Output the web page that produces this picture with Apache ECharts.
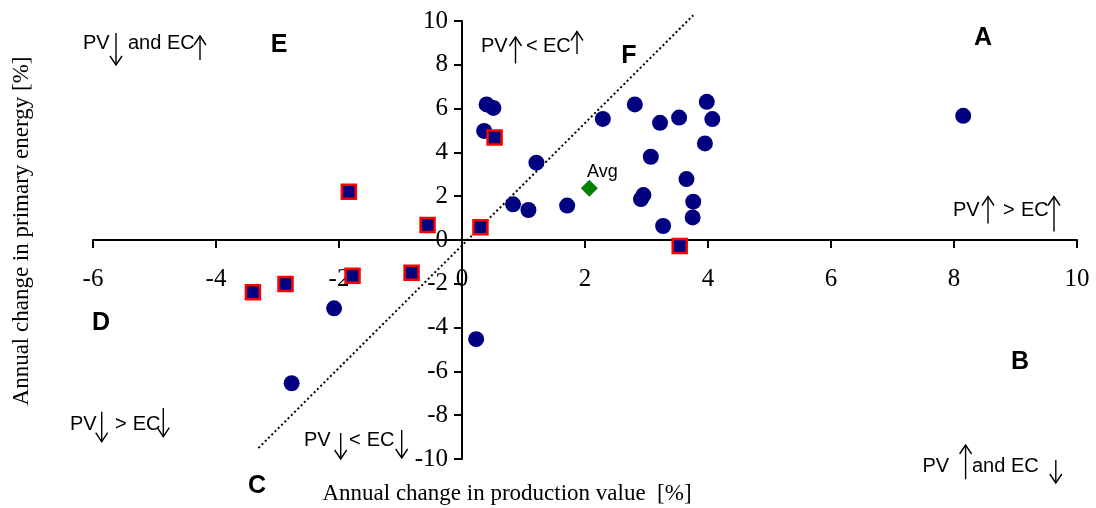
<!DOCTYPE html>
<html>
<head>
<meta charset="utf-8">
<script src="https://cdn.jsdelivr.net/npm/echarts@6/dist/echarts.min.js"></script>
<style>
  html, body { margin: 0; padding: 0; background: #ffffff; }
  #chart { width: 1096px; height: 508px; }
</style>
</head>
<body>
<div id="chart"></div>
<script>
// Annual change in production value (x, %) and in primary energy (y, %)
const circlePoints = [
  [0.40, 6.19], [0.51, 6.03], [0.36, 4.98], [1.21, 3.53], [0.83, 1.63],
  [1.08, 1.37], [1.71, 1.57], [2.29, 5.53], [2.81, 6.19], [3.22, 5.35],
  [3.53, 5.59], [3.98, 6.31], [4.07, 5.52], [3.95, 4.41], [3.07, 3.80],
  [3.65, 2.78], [2.95, 2.05], [2.91, 1.87], [3.76, 1.75], [3.75, 1.03],
  [3.27, 0.64], [8.15, 5.67], [-2.08, -3.12], [-2.77, -6.54], [0.23, -4.53]
];
const squarePoints = [
  [0.53, 4.68], [-0.56, 0.68], [0.30, 0.58], [3.54, -0.27], [-1.84, 2.20],
  [-3.40, -2.39], [-2.87, -2.01], [-1.78, -1.63], [-0.82, -1.49]
];
const averagePoint = [[2.07, 2.36]];
const averageLabel = 'Avg';
// Dotted divider between the "PV < EC" and "PV > EC" zones
const dividerLine = [[-3.31, -9.50], [3.76, 10.26]];

const xRange = { min: -6, max: 10, interval: 2 };
const yRange = { min: -10, max: 10, interval: 2 };

const xTitle = 'Annual change in production value  [%]';
const yTitle = 'Annual change in primary energy [%]';

const zoneLetters = ['A', 'B', 'C', 'D', 'E', 'F'];

// Zone descriptions: text pieces with up/down arrows in between
const zoneNotes = [
  ['PV', 'down', 'and EC', 'up'],
  ['PV', 'up', '<', 'EC', 'up'],
  ['PV', 'up', '>', 'EC', 'up'],
  ['PV', 'down', '>', 'EC', 'down'],
  ['PV', 'down', '<', 'EC', 'down'],
  ['PV', 'up', 'and EC', 'down']
];

// ---- layout (pixels) ----
const grid = { left: 93, right: 19, top: 21, bottom: 49 };
const letterPos = {
  A: [983, 38], B: [1020, 362], C: [257, 486], D: [101, 323], E: [279, 45], F: [629, 56]
};
// per note: text centre y; per piece: left x for text, [x, y0, y1] for an arrow
const noteLayout = [
  { y: 43,    parts: [83,  [116, 33, 65],       128,  [200, 36, 60]] },
  { y: 46.5,  parts: [481, [515.5, 37, 63.5],   526,  543,  [577, 31.5, 54]] },
  { y: 210,   parts: [953, [988, 196.5, 223.5], 1003, 1021, [1054, 196.5, 231.5]] },
  { y: 424,   parts: [70,  [101.7, 411.7, 441.7], 115, 132.7, [163.3, 408, 436.7]] },
  { y: 440.5, parts: [304, [340.7, 433, 459],   349,  366.7, [401.7, 430, 458]] },
  { y: 466,   parts: [922.5, [965.6, 445, 479.3], 972, [1055.8, 460, 483]] }
];

const sans = '"Liberation Sans", Arial, sans-serif';
const serif = '"Liberation Serif", "Times New Roman", serif';

function arrowShape(x, y1, y2, dir) {
  // shaft runs y1..y2; head at the top for 'up', at the bottom for 'down'
  const tip = dir === 'up' ? Math.min(y1, y2) : Math.max(y1, y2);
  const back = dir === 'up' ? tip + 9 : tip - 9;
  return [
    { type: 'line', shape: { x1: x, y1: y1, x2: x, y2: y2 },
      style: { stroke: '#000', lineWidth: 1.4 } },
    { type: 'polyline', shape: { points: [[x - 6, back], [x, tip], [x + 6, back]] },
      style: { stroke: '#000', lineWidth: 1.4, fill: null } }
  ];
}

const graphics = [];
zoneLetters.forEach(function (ch) {
  const p = letterPos[ch];
  graphics.push({
    type: 'text', x: p[0], y: p[1],
    style: { text: ch, font: 'bold 25px ' + sans, fill: '#000', align: 'center', verticalAlign: 'middle' }
  });
});
zoneNotes.forEach(function (note, i) {
  const lay = noteLayout[i];
  note.forEach(function (piece, j) {
    const pos = lay.parts[j];
    if (piece === 'up' || piece === 'down') {
      arrowShape(pos[0], pos[1], pos[2], piece).forEach(function (g) { graphics.push(g); });
    } else {
      graphics.push({
        type: 'text', x: pos, y: lay.y,
        style: { text: piece, font: '20px ' + sans, fill: '#000', align: 'left', verticalAlign: 'middle' }
      });
    }
  });
});
graphics.push({
  type: 'text', x: 507, y: 494,
  style: { text: xTitle, font: '23px ' + serif, fill: '#000', align: 'center', verticalAlign: 'middle' }
});
graphics.push({
  type: 'text', x: 22, y: 231, rotation: Math.PI / 2,
  style: { text: yTitle, font: '23px ' + serif, fill: '#000', align: 'center', verticalAlign: 'middle' }
});

// Axes cross at the origin: shift each axis from the grid edge to the other axis's zero
const plotW = 1096 - grid.left - grid.right;
const plotH = 508 - grid.top - grid.bottom;
const xAxisShift = -plotH * (0 - yRange.min) / (yRange.max - yRange.min);
const yAxisShift = -plotW * (0 - xRange.min) / (xRange.max - xRange.min);

const axisCommon = {
  axisLine: { show: true, onZero: false, lineStyle: { color: '#000', width: 2 } },
  axisTick: { show: true, length: 8, lineStyle: { color: '#000', width: 2 } },
  splitLine: { show: false },
  axisLabel: { color: '#000', fontFamily: serif, fontSize: 25, showMinLabel: true, showMaxLabel: true, hideOverlap: false }
};

const chart = echarts.init(document.getElementById('chart'), null, { renderer: 'canvas' });
chart.setOption({
  backgroundColor: '#ffffff',
  animation: false,
  grid: Object.assign({ containLabel: false }, grid),
  xAxis: Object.assign({}, axisCommon, {
    type: 'value', position: 'bottom', offset: xAxisShift,
    min: xRange.min, max: xRange.max, interval: xRange.interval,
    axisLabel: Object.assign({}, axisCommon.axisLabel, { margin: 27 })
  }),
  yAxis: Object.assign({}, axisCommon, {
    type: 'value', position: 'left', offset: yAxisShift,
    min: yRange.min, max: yRange.max, interval: yRange.interval,
    axisLabel: Object.assign({}, axisCommon.axisLabel, { margin: 14 })
  }),
  series: [
    {
      type: 'line', data: dividerLine, symbol: 'none', clip: false, silent: true,
      lineStyle: { color: '#000', width: 2, type: [2, 2.6] }, z: 1
    },
    {
      type: 'scatter', data: circlePoints, symbol: 'circle', symbolSize: 16,
      itemStyle: { color: '#000080', opacity: 1 }, z: 2
    },
    {
      type: 'scatter', data: squarePoints, symbol: 'rect', symbolSize: 14,
      itemStyle: { color: '#000080', borderColor: '#ff0000', borderWidth: 2.5, opacity: 1 }, z: 3
    },
    {
      type: 'scatter', data: averagePoint, symbol: 'diamond', symbolSize: 17,
      itemStyle: { color: '#008000', opacity: 1 }, z: 4,
      label: {
        show: true, formatter: averageLabel, position: 'top', distance: 1, offset: [13, 2],
        color: '#000', fontFamily: sans, fontSize: 18
      }
    }
  ],
  graphic: graphics
});
</script>
</body>
</html>
